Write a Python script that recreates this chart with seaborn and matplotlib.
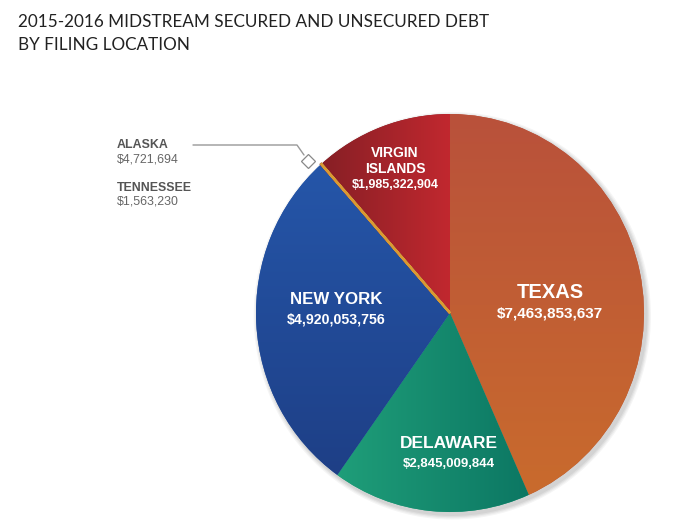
import numpy as np
import matplotlib
matplotlib.use("Agg")
import matplotlib.pyplot as plt
from matplotlib.colors import LinearSegmentedColormap
from matplotlib.patches import Ellipse
import seaborn as sns

sns.set_theme(style="white")

# ---- data ----
locations = ["TEXAS", "DELAWARE", "NEW YORK", "TENNESSEE", "ALASKA", "VIRGIN ISLANDS"]
debt = [7463853637, 2845009844, 4920053756, 1563230, 4721694, 1985322904]
amount_labels = ["$7,463,853,637", "$2,845,009,844", "$4,920,053,756",
                 "$1,563,230", "$4,721,694", "$1,985,322,904"]
title = "2015-2016 MIDSTREAM SECURED AND UNSECURED DEBT\nBY FILING LOCATION"

# gradient colour pairs (start = top/left, end = bottom/right) and direction
grad = {
    "TEXAS": ("#B9513B", "#C96B2D", "v"),
    "DELAWARE": ("#1F9E79", "#0C7763", "h"),
    "NEW YORK": ("#2556A9", "#1E3F86", "v"),
    "TENNESSEE": ("#5A2B7C", "#5A2B7C", "h"),
    "ALASKA": ("#D99A32", "#D99A32", "h"),
    "VIRGIN ISLANDS": ("#861F25", "#C1282F", "h"),
}

W, H = 697, 524
fig = plt.figure(figsize=(W / 100, H / 100), dpi=100)
fig.patch.set_facecolor("white")

# pie box in pixels
cx, cy, rx, ry = 450, 313, 194, 199
ax = fig.add_axes([(cx - rx) / W, (H - (cy + ry)) / H, 2 * rx / W, 2 * ry / H])

# soft shadow
for i, a in enumerate([0.04, 0.04, 0.05, 0.05]):
    s = 1.0 + 0.006 * (4 - i)
    ax.add_patch(Ellipse((0.012, -0.014), 2 * s, 2 * s, facecolor="#000000",
                         alpha=a, lw=0, zorder=0))

wedges, _ = ax.pie(debt, startangle=90, counterclock=False, radius=1,
                   colors=[grad[l][0] for l in locations],
                   wedgeprops=dict(linewidth=0))
ax.set_aspect("auto")
ax.axis("off")

for w, loc in zip(wedges, locations):
    c0, c1, d = grad[loc]
    cmap = LinearSegmentedColormap.from_list(loc, [c0, c1])
    if d == "v":
        img = np.linspace(1, 0, 256).reshape(-1, 1)
    else:
        img = np.linspace(0, 1, 256).reshape(1, -1)
    bb = w.get_path().get_extents()
    im = ax.imshow(img, cmap=cmap, vmin=0, vmax=1, extent=(bb.x0, bb.x1, bb.y0, bb.y1),
                   origin="lower", aspect="auto", zorder=2)
    im.set_clip_path(w)
    if loc in ("TENNESSEE", "ALASKA"):
        w.set_edgecolor(c0)
        w.set_linewidth(1.8)
        w.set_zorder(3)
ax.set_xlim(-1.05, 1.05)
ax.set_ylim(-1.05, 1.05)
pos = [(cx - rx * 1.05) / W, (H - (cy + ry * 1.05)) / H, 2 * rx * 1.05 / W, 2 * ry * 1.05 / H]
ax.set_position(pos)


def ftxt(x, y, s, **kw):
    fig.text(x / W, 1 - y / H, s, **kw)


ftxt(18, 22, title.split("\n")[0], fontsize=12.3, family="Lato", color="#222222", va="center", ha="left")
ftxt(18, 45, title.split("\n")[1], fontsize=12.3, family="Lato", color="#222222", va="center", ha="left")

lab = dict(family="Liberation Sans", color="white", fontweight="bold", ha="center", va="center")
ftxt(550, 293, locations[0], fontsize=14.5, **lab)
ftxt(550, 314, amount_labels[0], fontsize=11, **lab)
ftxt(449, 443, locations[1], fontsize=12.5, **lab)
ftxt(449, 464, amount_labels[1], fontsize=9.5, **lab)
ftxt(336, 300, locations[2], fontsize=12.2, **lab)
ftxt(336, 319, amount_labels[2], fontsize=10.2, **lab)
ftxt(395, 153, "VIRGIN", fontsize=10, **lab)
ftxt(395, 169, "ISLANDS", fontsize=10, **lab)
ftxt(395, 185, amount_labels[5], fontsize=9, **lab)

side_b = dict(family="Liberation Sans", color="#555555", fontweight="bold", ha="left", va="center", fontsize=8.9)
side_n = dict(family="Liberation Sans", color="#666666", ha="left", va="center", fontsize=8.9)
ftxt(117, 145, locations[4], **side_b)
ftxt(117, 159, amount_labels[4], **side_n)
ftxt(117, 188, locations[3], **side_b)
ftxt(117, 202, amount_labels[3], **side_n)

# leader line for Alaska
lx = np.array([193, 297, 304]) / W
ly = 1 - np.array([145, 145, 155]) / H
fig.add_artist(plt.Line2D(lx, ly, color="#999999", lw=1.0))
fig.add_artist(plt.Line2D([308 / W], [1 - 161 / H], marker="D", markersize=7.5,
                          markerfacecolor="white", markeredgecolor="#888888",
                          markeredgewidth=0.9,
                          transform=fig.transFigure))

fig.savefig("out.png", dpi=100, facecolor="white")
